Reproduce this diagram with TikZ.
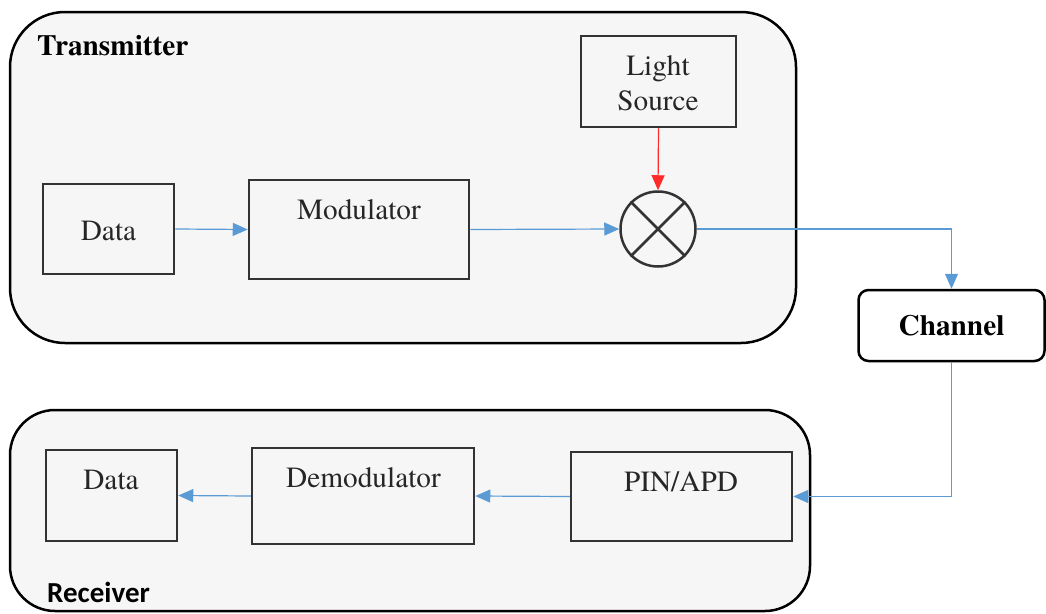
\documentclass[tikz,border=0pt]{standalone}
\usepackage{fontspec}
\setmainfont{texgyretermes}[Extension=.otf, UprightFont=*-regular, BoldFont=*-bold, ItalicFont=*-italic, BoldItalicFont=*-bolditalic]
\newfontfamily\calib{Carlito}
\usetikzlibrary{arrows.meta}
\definecolor{bluel}{HTML}{5B9BD5}
\definecolor{panel}{HTML}{F6F6F6}
\definecolor{boxline}{HTML}{333333}
\definecolor{txt}{HTML}{262626}
\definecolor{redl}{HTML}{FF2A2A}
\begin{document}
\begin{tikzpicture}[x=1pt,y=-1pt,
  panelbox/.style={draw=black, line width=2.5pt, fill=panel, inner sep=0pt},
  blockbox/.style={draw=boxline, line width=2.5pt, inner sep=0pt},
  lbl/.style={text=txt, font=\fontsize{29.3}{35}\selectfont, inner sep=0pt, align=center},
  title/.style={text=black, inner sep=0pt, anchor=west},
  sig/.style={draw=bluel, line width=1.2pt, -{Triangle[length=15pt,width=13pt]}},
  feed/.style={draw=redl, line width=1.2pt, -{Triangle[length=15pt,width=13pt]}},
]
\useasboundingbox (0,0) rectangle (1046,613);

% panels
\node[panelbox, rounded corners=55pt, minimum width=786pt, minimum height=331pt] (txp) at (403,177.5) {};
\node[panelbox, rounded corners=45pt, minimum width=800pt, minimum height=201pt] (rxp) at (410,510.5) {};

\node[title, font=\fontsize{29.3}{32}\selectfont\bfseries] (txt) at (37,46) {Transmitter};
\node[title, font=\calib\fontsize{29}{32}\selectfont\bfseries] (rxt) at (47,592) {Receiver};

% transmitter blocks
\node[blockbox, minimum width=131pt, minimum height=90pt] (dtx) at (108.5,229) {};
\node[lbl] (dtxl) at (108.5,231) {Data};

\node[blockbox, minimum width=220pt, minimum height=99pt] (mod) at (359,229.5) {};
\node[lbl] (modl) at (359,210) {Modulator};

\node[blockbox, minimum width=155pt, minimum height=91pt] (ls) at (658.5,81.5) {};
\node[lbl] (lsl) at (658,83) {Light\\Source};

\node[draw=boxline, line width=2.5pt, circle, minimum size=75pt, inner sep=0pt] (mix) at (658,229) {};
\draw[boxline, line width=2.5pt] (mix.north east) -- (mix.south west)
  (mix.north west) -- (mix.south east);

% channel
\node[draw=black, line width=2.5pt, fill=white, rounded corners=10pt, minimum width=186pt, minimum height=71pt, inner sep=0pt,
  font=\fontsize{29.3}{32}\selectfont\bfseries] (ch) at (951.5,325.5) {Channel};

% receiver blocks
\node[blockbox, minimum width=221pt, minimum height=89pt] (pin) at (681.5,496.5) {};
\node[lbl] (pinl) at (681,482) {PIN/APD};

\node[blockbox, minimum width=222pt, minimum height=96pt] (dem) at (363,496) {};
\node[lbl] (deml) at (363.5,478) {Demodulator};

\node[blockbox, minimum width=131pt, minimum height=91pt] (drx) at (111.5,495.5) {};
\node[lbl] (drxl) at (111,480) {Data};

% connectors
\draw[sig] (dtx.east) -- (mod.west);
\draw[sig] (mod.east) -- (mix.west);
\draw[feed] (ls.south) -- (mix.north);
\draw[sig] (mix.east) -| (ch.north);
\draw[sig] (ch.south) |- (pin.east);
\draw[sig] (pin.west) -- (dem.east);
\draw[sig] (dem.west) -- (drx.east);
\end{tikzpicture}
\end{document}
